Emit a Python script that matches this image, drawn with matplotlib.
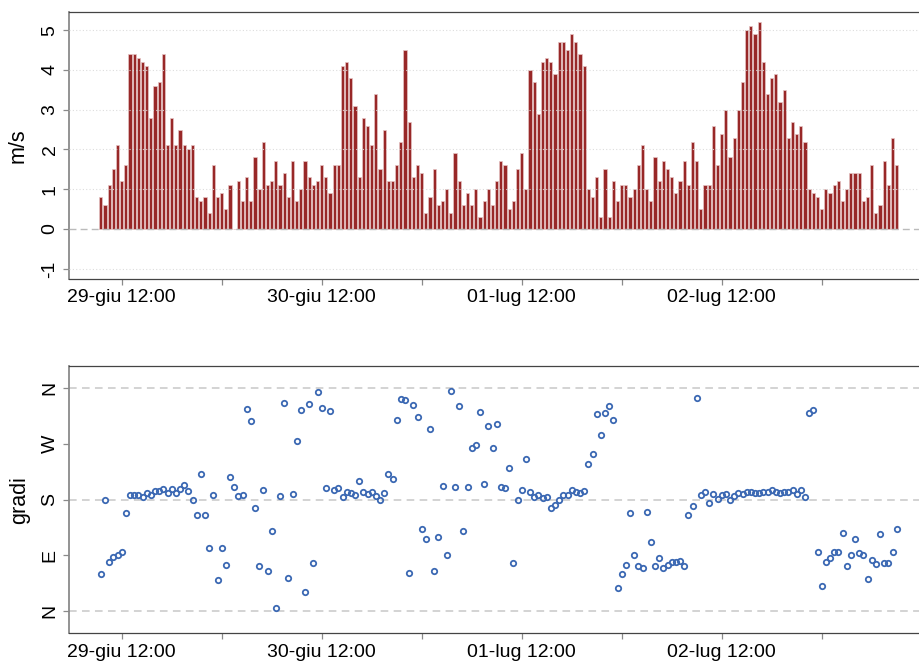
import numpy as np
import pandas as pd
import matplotlib
matplotlib.use("Agg")
import matplotlib.pyplot as plt
import matplotlib.dates as mdates

plt.rcParams['font.family'] = ['Liberation Sans', 'DejaVu Sans']

# ---------------- data ----------------
start_time = "2023-06-29 09:30"
n_obs = 192  # half-hourly observations

speed = [
    0.8, 0.6, 1.1, 1.5, 2.1, 1.2, 1.6, 4.4, 4.4, 4.3,
    4.2, 4.1, 2.8, 3.6, 3.7, 4.4, 2.1, 2.8, 2.1, 2.5,
    2.1, 2.0, 2.1, 0.8, 0.7, 0.8, 0.4, 1.6, 0.8, 0.9,
    0.5, 1.1, 0.0, 1.2, 0.7, 1.3, 0.7, 1.8, 1.0, 2.2,
    1.1, 1.2, 1.7, 1.1, 1.4, 0.8, 1.7, 0.7, 1.0, 1.7,
    1.3, 1.1, 1.2, 1.6, 1.3, 0.9, 1.6, 1.6, 4.1, 4.2,
    3.8, 3.1, 1.3, 2.8, 2.6, 2.1, 3.4, 1.5, 2.5, 1.2,
    1.2, 1.6, 2.2, 4.5, 2.7, 1.3, 1.6, 1.4, 0.4, 0.8,
    1.5, 0.6, 0.7, 1.0, 0.4, 1.9, 1.2, 0.6, 0.9, 0.6,
    1.0, 0.3, 0.7, 1.0, 0.6, 1.2, 1.7, 1.6, 0.5, 0.7,
    1.5, 1.9, 1.0, 4.0, 3.7, 2.9, 4.2, 4.3, 4.2, 3.9,
    4.7, 4.7, 4.5, 4.9, 4.7, 4.4, 4.1, 1.0, 0.8, 1.3,
    0.3, 1.5, 0.3, 1.2, 0.7, 1.1, 1.1, 0.8, 1.0, 1.6,
    2.1, 1.0, 0.7, 1.8, 1.2, 1.7, 1.5, 1.3, 0.9, 1.2,
    1.7, 1.1, 2.2, 1.7, 0.5, 1.1, 1.1, 2.6, 1.6, 2.4,
    3.0, 1.8, 2.3, 3.0, 3.7, 5.0, 5.1, 4.9, 5.2, 4.2,
    3.4, 3.8, 3.9, 3.2, 3.5, 2.3, 2.7, 2.4, 2.6, 2.2,
    1.0, 0.9, 0.8, 0.5, 1.0, 0.9, 1.1, 1.2, 0.7, 1.0,
    1.4, 1.4, 1.4, 0.7, 0.8, 1.6, 0.4, 0.6, 1.7, 1.1,
    2.3, 1.6,
]

direction = [
    60, 179, 79, 88, 90, 96, 159, 187, 187, 187,
    185, 190, 188, 194, 194, 197, 190, 197, 191, 197,
    204, 194, 179, 156, 222, 156, 102, 187, 50, 102,
    75, 217, 200, 186, 188, 327, 307, 166, 72, 195,
    64, 129, 5, 186, 336, 53, 189, 275, 325, 31,
    335, 78, 354, 328, 199, 323, 196, 199, 185, 192,
    190, 188, 210, 193, 189, 192, 186, 180, 191, 222,
    213, 308, 342, 341, 61, 333, 313, 132, 116, 294,
    64, 119, 202, 90, 356, 200, 331, 129, 200, 263,
    268, 322, 205, 299, 263, 303, 200, 199, 231, 78,
    180, 195, 245, 192, 185, 188, 182, 185, 167, 172,
    180, 188, 188, 196, 192, 190, 194, 238, 254, 319,
    284, 320, 331, 309, 38, 60, 74, 158, 90, 72,
    70, 160, 111, 73, 85, 69, 74, 80, 79, 81,
    72, 155, 170, 345, 188, 192, 174, 189, 181, 187,
    189, 180, 186, 190, 189, 193, 193, 190, 190, 192,
    192, 195, 192, 190, 192, 192, 195, 189, 196, 184,
    320, 325, 96, 40, 79, 85, 96, 96, 126, 73,
    91, 116, 93, 91, 51, 83, 76, 124, 78, 78,
    96, 133,
]

tick_times = ["2023-06-29 12:00", "2023-06-30 00:00", "2023-06-30 12:00",
              "2023-07-01 00:00", "2023-07-01 12:00", "2023-07-02 00:00",
              "2023-07-02 12:00", "2023-07-03 00:00"]
tick_labels = ["29-giu 12:00", "", "30-giu 12:00", "", "01-lug 12:00", "",
               "02-lug 12:00", ""]

speed_ticks = [-1, 0, 1, 2, 3, 4, 5]
dir_ticks = [0, 90, 180, 270, 360]
dir_labels = ["N", "E", "S", "W", "N"]

# ---------------- figure ----------------
times = pd.date_range(start_time, periods=n_obs, freq="30min")
tnum = mdates.date2num(times.to_pydatetime())
span = tnum[-1] - tnum[0]
xlim = (tnum[0] - 0.04 * span, tnum[-1] + 0.04 * span)
tick_num = mdates.date2num(pd.to_datetime(tick_times).to_pydatetime())

W, H = 919, 661
fig = plt.figure(figsize=(W / 100, H / 100), dpi=100)

left_px, right_px = 69, 928.5
ax1 = fig.add_axes([left_px / W, 1 - 278.7 / H, (right_px - left_px) / W, 266.4 / H])
ax2 = fig.add_axes([left_px / W, 1 - 633.3 / H, (right_px - left_px) / W, 267.3 / H])

spine_dark = "#444444"
spine_gray = "#8a8a8a"
FS = 14
LFS = 15.5

def style(ax):
    for s in ["top", "right", "bottom"]:
        ax.spines[s].set_color(spine_dark)
        ax.spines[s].set_linewidth(0.9)
    ax.spines["left"].set_color(spine_gray)
    ax.spines["left"].set_linewidth(1.3)
    ax.tick_params(axis="both", direction="out", length=4.5, width=0.9,
                   color=spine_gray, labelsize=FS, pad=3)
    ax.set_xlim(*xlim)
    ax.set_xticks(tick_num)
    ax.set_xticklabels(tick_labels)
    for lab in ax.get_yticklabels():
        lab.set_rotation(90)
        lab.set_va("center")

# ---- top panel: speed
bar_w = 0.74 * (30 / 1440)
ax1.bar(tnum, speed, width=bar_w, color="#982828", edgecolor="#E6C4C4",
        linewidth=0.5, zorder=2)
for yv in speed_ticks:
    if yv == 0:
        ax1.axhline(0, color="#bbbbbb", lw=1.0, ls=(0, (5, 3)), zorder=3)
    else:
        ax1.axhline(yv, color="#d9d9d9", lw=0.8, ls=(0, (1, 2)), zorder=3, alpha=0.9)
ax1.set_ylim(-1 - 0.248, 5.2 + 0.248)
ax1.set_yticks(speed_ticks)
ax1.set_yticklabels([str(v) for v in speed_ticks])
style(ax1)
ax1.set_ylabel("m/s", fontsize=LFS)
ax1.yaxis.set_label_coords((29 - left_px) / (right_px - left_px), 0.5)

# ---- bottom panel: direction
for yv in [0, 180, 360]:
    ax2.axhline(yv, color="#c8c8c8", lw=1.1, ls=(0, (5, 3.5)), zorder=1)
ax2.plot(tnum, direction, ls="none", marker="o", ms=3.9, mew=1.3,
         mfc="none", mec="#3B68B3", zorder=3)
ax2.set_ylim(-36, 396)
ax2.set_yticks(dir_ticks)
ax2.set_yticklabels(dir_labels)
style(ax2)
ax2.set_ylabel("gradi", fontsize=LFS)
ax2.yaxis.set_label_coords((30 - left_px) / (right_px - left_px), 0.5)

fig.savefig("out.png", dpi=100)
